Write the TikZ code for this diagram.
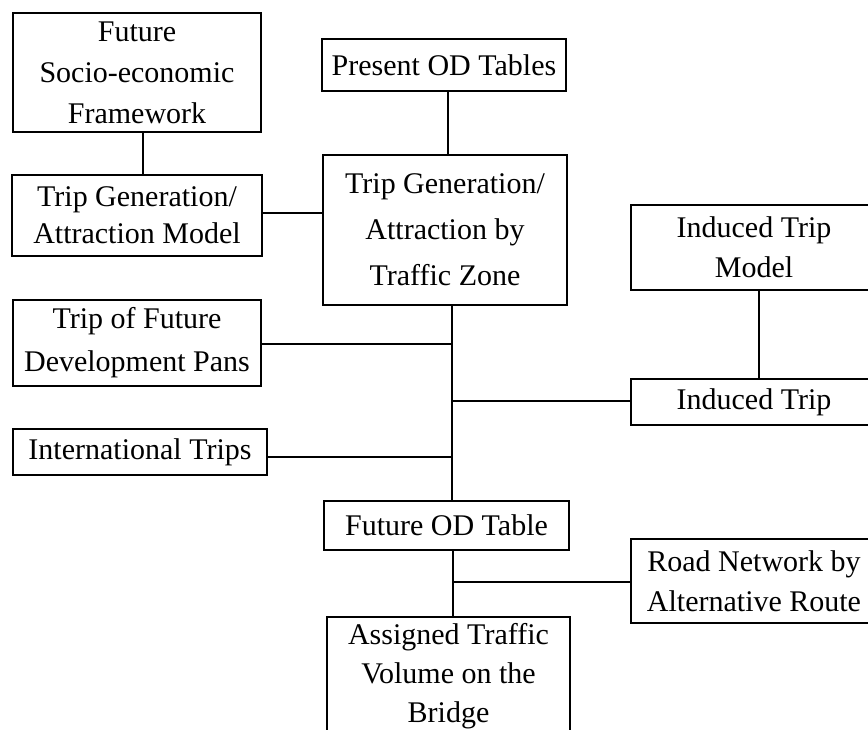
\documentclass[tikz,border=0pt]{standalone}
\usepackage{fontspec}
\setmainfont{Liberation Serif}
\begin{document}
\begin{tikzpicture}[x=1pt,y=-1pt,
  box/.style={draw, line width=2.2pt, align=center, inner sep=0pt, font=\fontsize{30}{40}\selectfont},
  link/.style={line width=1.7pt},
  trunk/.style={line width=2.8pt}]
\useasboundingbox (0,0) rectangle (868,729);
\clip (0,0) rectangle (868,729);
% boxes
\node[box, minimum width=248pt, minimum height=119pt, font=\fontsize{30}{41}\selectfont] (A) at (137,72.5) {Future\\Socio-economic\\Framework};
\node[box, minimum width=250pt, minimum height=81pt, font=\fontsize{30}{37}\selectfont] (B) at (137,215.5) {Trip Generation/\\Attraction Model};
\node[box, minimum width=244pt, minimum height=52pt] (P) at (444,65) {Present OD Tables};
\node[box, minimum width=244pt, minimum height=150pt, font=\fontsize{30}{46}\selectfont] (C) at (445,230) {Trip Generation/\\Attraction by\\Traffic Zone};
\node[box, minimum width=248pt, minimum height=86pt, font=\fontsize{30}{43}\selectfont] (D) at (137,343) {Trip of Future\\Development Pans};
\node[box, minimum width=254pt, minimum height=46pt] (E) at (140,452) {International Trips};
\node[box, minimum width=246pt, minimum height=85pt] (F) at (754,247.5) {Induced Trip\\Model};
\node[box, minimum width=246pt, minimum height=46pt] (G) at (754,402) {Induced Trip};
\node[box, minimum width=245pt, minimum height=49pt] (H) at (446.5,525.5) {Future OD Table};
\node[box, minimum width=243pt, minimum height=118pt, font=\fontsize{30}{39}\selectfont] (I) at (448.5,676) {Assigned Traffic\\Volume on the\\Bridge};
\node[box, minimum width=246pt, minimum height=84pt] (J) at (754,581) {Road Network by\\Alternative Route};
% junction coordinates on the trunk
\coordinate (m1) at ([xshift=7pt]C.south);
\coordinate (m2) at (m1 |- H.north);
\coordinate (n1) at ([xshift=6.5pt]H.south);
\coordinate (n2) at (n1 |- I.north);
% connectors
\draw[trunk] ([xshift=6pt]A.south) -- ([xshift=6pt]A.south |- B.north);
\draw[link] ([yshift=2.5pt]B.east) -- ([yshift=2.5pt]B.east -| C.west);
\draw[trunk] ([xshift=4pt]P.south) -- ([xshift=4pt]P.south |- C.north);
\draw[trunk] (m1) -- (m2);
\draw[link] ([yshift=-1pt]D.east) -- ([yshift=-1pt]D.east -| m1);
\draw[link] ([yshift=-5pt]E.east) -- ([yshift=-5pt]E.east -| m1);
\draw[link] ([yshift=1pt]G.west) -- ([yshift=1pt]G.west -| m1);
\draw[trunk] ([xshift=5pt]F.south) -- ([xshift=5pt]F.south |- G.north);
\draw[trunk] (n1) -- (n2);
\draw[link] ([yshift=-1pt]J.west) -- ([yshift=-1pt]J.west -| n1);
\end{tikzpicture}
\end{document}
